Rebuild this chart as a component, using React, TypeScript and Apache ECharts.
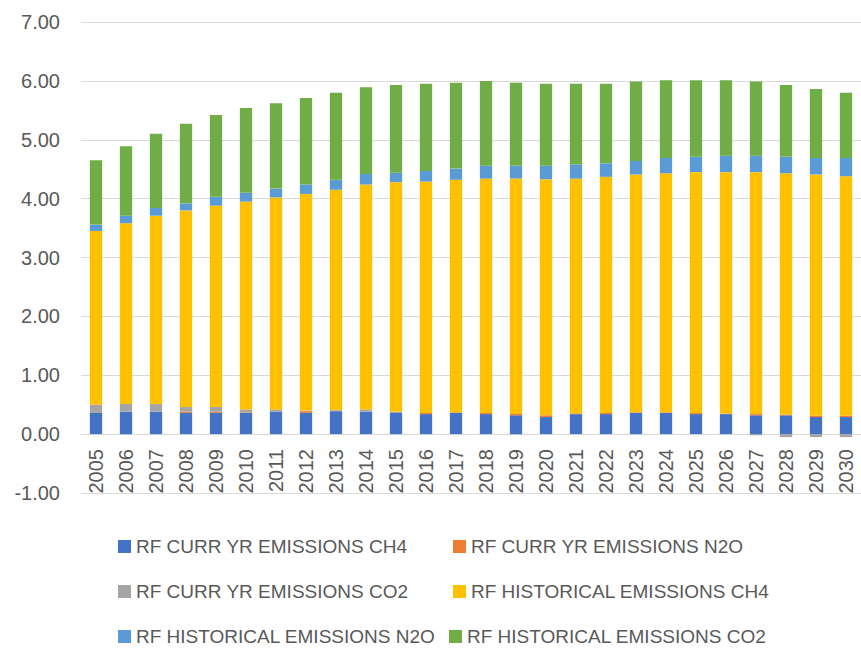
import React, { useEffect, useRef } from "react";
import * as echarts from "echarts";

const years = [
  "2005", "2006", "2007", "2008", "2009", "2010", "2011", "2012", "2013",
  "2014", "2015", "2016", "2017", "2018", "2019", "2020", "2021", "2022",
  "2023", "2024", "2025", "2026", "2027", "2028", "2029", "2030",
];

const currCH4 = [
  0.36, 0.38, 0.38, 0.36, 0.36, 0.36, 0.38, 0.36, 0.39, 0.38, 0.36, 0.34, 0.36,
  0.34, 0.32, 0.29, 0.34, 0.34, 0.36, 0.36, 0.34, 0.34, 0.32, 0.32, 0.29, 0.29,
];
const currN2O = [
  0.0, 0.0, 0.0, 0.02, 0.02, 0.01, 0.0, 0.03, 0.01, 0.0, 0.0, 0.02, 0.01,
  0.02, 0.02, 0.03, 0.01, 0.02, 0.01, 0.01, 0.02, 0.01, 0.02, 0.01, 0.02, 0.02,
];
const currCO2 = [
  0.14, 0.13, 0.13, 0.08, 0.08, 0.05, 0.04, 0.01, 0.01, 0.04, 0.02, 0.0, 0.0,
  0.0, 0.0, 0.0, 0.0, 0.0, 0.0, 0.0, 0.0, 0.0, -0.02, -0.05, -0.05, -0.05,
];
const histCH4 = [
  2.95, 3.07, 3.2, 3.34, 3.42, 3.53, 3.6, 3.68, 3.74, 3.82, 3.9, 3.93, 3.95,
  3.98, 4.0, 4.01, 3.99, 4.01, 4.04, 4.06, 4.09, 4.1, 4.11, 4.1, 4.1, 4.07,
];
const histN2O = [
  0.11, 0.13, 0.13, 0.12, 0.15, 0.15, 0.15, 0.16, 0.17, 0.18, 0.16, 0.18, 0.19,
  0.22, 0.22, 0.23, 0.24, 0.23, 0.23, 0.26, 0.26, 0.28, 0.28, 0.28, 0.28, 0.31,
];
const histCO2 = [
  1.09, 1.18, 1.26, 1.35, 1.39, 1.44, 1.45, 1.47, 1.48, 1.47, 1.49, 1.48, 1.46,
  1.44, 1.41, 1.39, 1.37, 1.35, 1.35, 1.32, 1.3, 1.28, 1.26, 1.22, 1.17, 1.11,
];

const seriesNames = [
  "RF CURR YR EMISSIONS CH4",
  "RF CURR YR EMISSIONS N2O",
  "RF CURR YR EMISSIONS CO2",
  "RF HISTORICAL EMISSIONS CH4",
  "RF HISTORICAL EMISSIONS N2O",
  "RF HISTORICAL EMISSIONS CO2",
];
const seriesData = [currCH4, currN2O, currCO2, histCH4, histN2O, histCO2];
const colors = ["#4472C4", "#ED7D31", "#A5A5A5", "#FFC000", "#5B9BD5", "#70AD47"];

const FONT = '"Liberation Sans", Arial, sans-serif';
const TEXT = "#595959";

// legend item placement (left, top)
const legendPos: [number, number][] = [
  [118, 537],
  [453, 537],
  [118, 582],
  [453, 582],
  [118, 627],
  [449, 627],
];

export default function App() {
  const ref = useRef<HTMLDivElement>(null);
  useEffect(() => {
    if (!ref.current) return;
    const chart = echarts.init(ref.current, undefined, { renderer: "svg" });
    chart.setOption({
      animation: false,
      color: colors,
      textStyle: { fontFamily: FONT },
      grid: { left: 81, right: -7, top: 22, bottom: 155, containLabel: false },
      xAxis: {
        type: "category",
        data: years,
        offset: -59,
        axisLine: { onZero: false, lineStyle: { color: "#D9D9D9", width: 1 } },
        axisTick: { show: false },
        axisLabel: {
          rotate: 90,
          interval: 0,
          margin: 15,
          color: TEXT,
          fontSize: 20,
          fontFamily: FONT,
        },
      },
      yAxis: {
        type: "value",
        min: -1,
        max: 7,
        interval: 1,
        axisLine: { show: false },
        axisTick: { show: false },
        axisLabel: {
          margin: 21,
          color: TEXT,
          fontSize: 20,
          fontFamily: FONT,
          formatter: (v: number) => v.toFixed(2),
        },
        splitLine: { lineStyle: { color: "#D9D9D9", width: 1 } },
      },
      legend: seriesNames.map((n, i) => ({
        data: [n],
        left: legendPos[i][0],
        top: legendPos[i][1],
        padding: 0,
        icon: "rect",
        itemWidth: 13,
        itemHeight: 13,
        textStyle: { color: TEXT, fontSize: 19, fontFamily: FONT },
      })),
      series: seriesNames.map((n, i) => ({
        name: n,
        type: "bar",
        stack: "total",
        barWidth: "41%",
        data: seriesData[i],
        itemStyle: { color: colors[i] },
      })),
    });
    return () => chart.dispose();
  }, []);
  return (
    <div
      ref={ref}
      style={{ position: "absolute", left: 0, top: 0, width: 861, height: 648 }}
    />
  );
}
